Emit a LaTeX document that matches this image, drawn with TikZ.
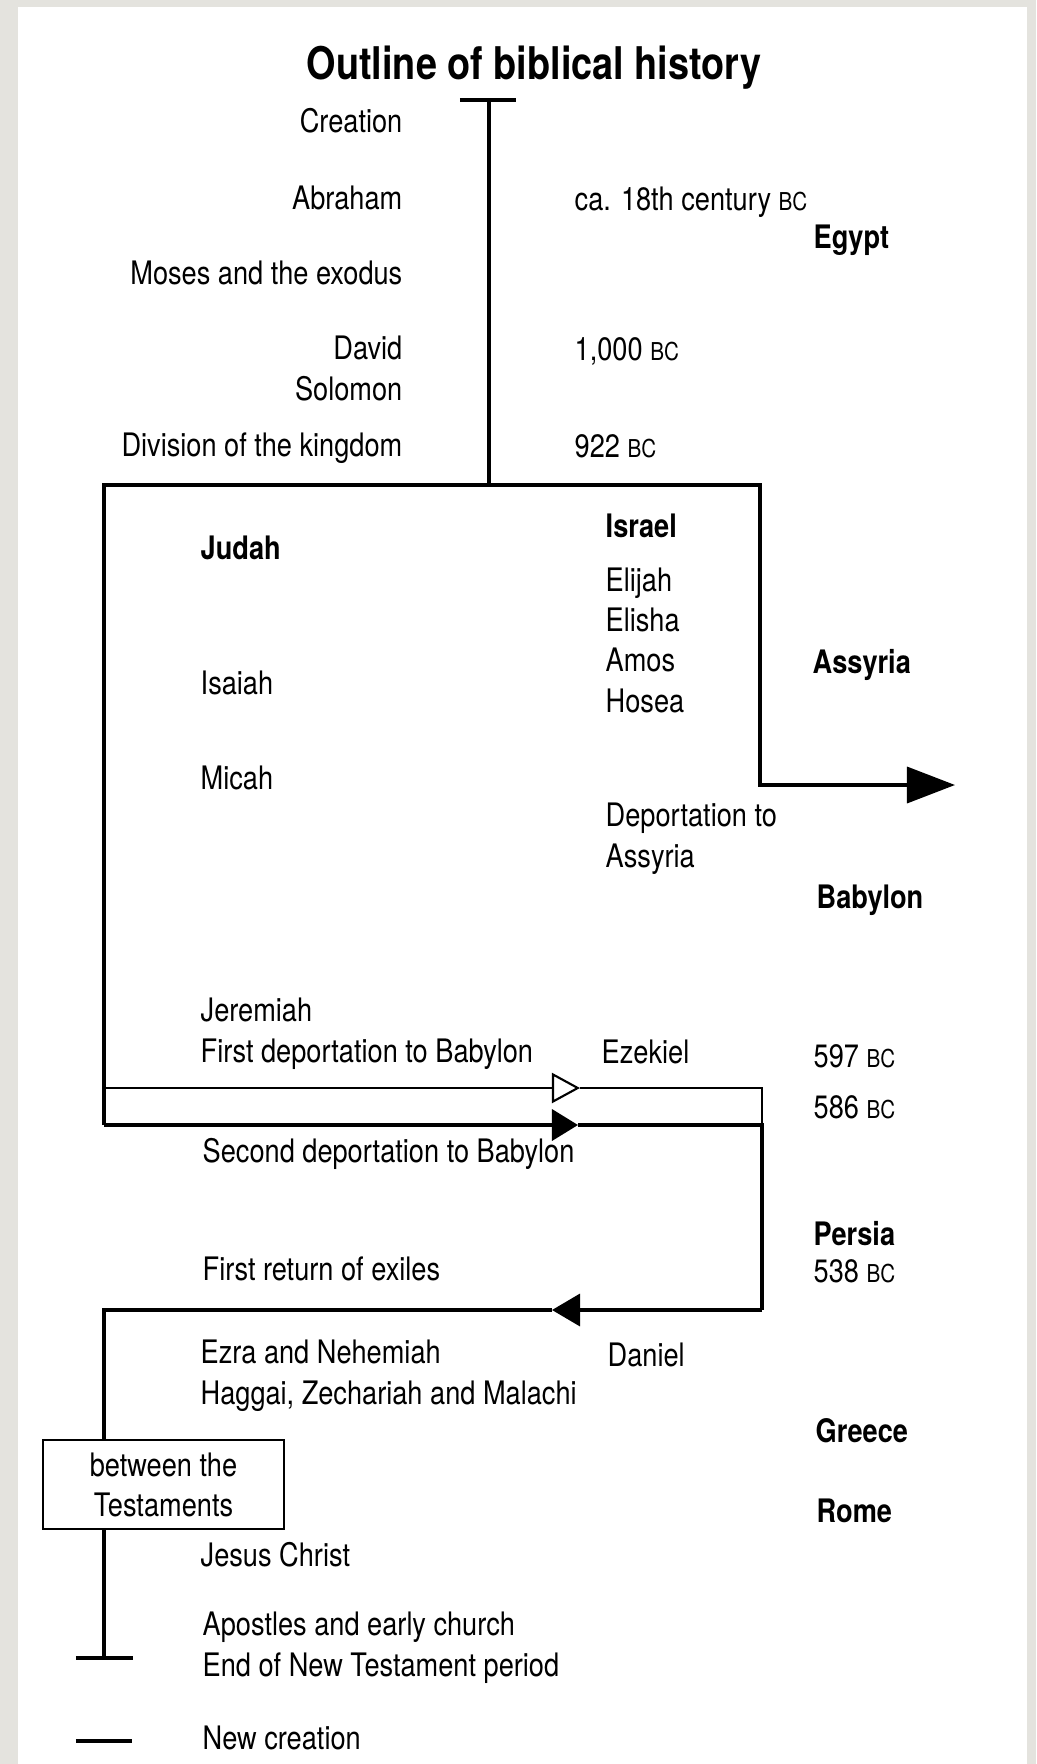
\documentclass[tikz,border=0pt]{standalone}
\usepackage{fontspec}
\setmainfont{TeX Gyre Heros}[FakeStretch=0.84]
\usetikzlibrary{arrows.meta, positioning}

\definecolor{scanpaper}{RGB}{228,227,222}
\newcommand{\yrBC}{{\fontsize{7}{8}\selectfont BC}}

\begin{document}
\begin{tikzpicture}[
    x=0.01cm, y=-0.01cm,
    % --- STYLES ---
    event/.style={
            anchor=base west,
            inner sep=0pt,
            align=left,
            font=\fontsize{9.2}{11.4}\selectfont
        },
    eventr/.style={
            event,
            anchor=base east,
            align=right
        },
    empire/.style={
            event,
            font=\fontsize{9.2}{11.4}\selectfont\bfseries
        },
    timeline/.style={
            line width=1pt,
            line join=miter
        },
    thinline/.style={
            line width=0.6pt,
            line join=miter
        },
    tick/.style={
            line width=1.4pt
        },
    period/.style={
            draw,
            line width=0.7pt,
            minimum width=2.41cm,
            minimum height=0.89cm,
            inner sep=0pt,
            align=center,
            font=\fontsize{9.2}{11.4}\selectfont
        }
    ]

    % --- PAGE ---
    \fill[scanpaper] (0,0) rectangle (1036,1764);
    \fill[white] (18,7) rectangle (1027,1764);

    \node[inner sep=0pt, anchor=base, font=\fontsize{12.8}{14}\selectfont\bfseries] (title) at (534,80) {Outline of biblical history};

    % --- TIMELINE POINTS ---
    \coordinate (top) at (489,100);
    \coordinate (split) at (489,485);
    \coordinate (boxL) at (104,485);
    \coordinate (boxR) at (760,485);
    \coordinate (bend) at (760,785);
    \coordinate (assyr) at (955,785);
    \coordinate (firstL) at (104,1088);
    \coordinate (firstA) at (580,1088);
    \coordinate (firstR) at (762,1088);
    \coordinate (secondL) at (104,1125);
    \coordinate (secondA) at (578,1125);
    \coordinate (secondR) at (762,1125);
    \coordinate (returnR) at (762,1310);
    \coordinate (returnA) at (552,1310);
    \coordinate (returnL) at (104,1310);
    \coordinate (endNT) at (104,1658);
    \coordinate (newc) at (104,1741);

    % --- BEFORE THE DIVISION ---
    % (multi-line nodes sit on the baseline of their last line)
    \node[eventr] (creation) at (403,133) {Creation};
    \node[eventr] (abraham) at (403,210) {Abraham};
    \node[eventr] (moses) at (403,285) {Moses and the exodus};
    \node[eventr] (david) at (403,400) {David\\Solomon};
    \node[eventr] (division) at (403,456) {Division of the kingdom};
    \node[event] (patriarchs) at (574,211) {ca. 18th century \yrBC};
    \node[event] (monarchy) at (574,361) {1,000 \yrBC};
    \node[event] (schism) at (574,457) {922 \yrBC};
    \node[empire] (egypt) at (813,249) {Egypt};

    % --- TWO KINGDOMS ---
    \node[empire] (israel) at (605,537) {Israel};
    \node[empire] (judah) at (200,559) {Judah};
    \node[event] (northprophets) at (605,712) {Elijah\\Elisha\\Amos\\Hosea};
    \node[empire] (assyria) at (812,673) {Assyria};
    \node[event] (isaiah) at (200,694) {Isaiah};
    \node[event] (micah) at (200,789) {Micah};
    \node[event] (deportA) at (605,867) {Deportation to\\Assyria};
    \node[empire] (babylon) at (816,908) {Babylon};
    \node[event] (jeremiah) at (200,1062) {Jeremiah\\First deportation to Babylon};
    \node[event] (ezekiel) at (601,1063) {Ezekiel};
    \node[event] (d597) at (813,1067) {597 \yrBC};
    \node[event] (d586) at (813,1118) {586 \yrBC};
    \node[event] (second) at (202,1162) {Second deportation to Babylon};

    % --- EXILE AND RETURN ---
    \node[empire] (persia) at (813,1245) {Persia};
    \node[event] (d538) at (813,1282) {538 \yrBC};
    \node[event] (returned) at (202,1280) {First return of exiles};
    \node[event] (ezra) at (200,1404) {Ezra and Nehemiah\\Haggai, Zechariah and Malachi};
    \node[event] (daniel) at (607,1366) {Daniel};
    \node[empire] (greece) at (815,1442) {Greece};
    \node[empire] (rome) at (816,1522) {Rome};
    \node[period] (between) at (163.5,1484.5) {between the\\Testaments};
    \node[event] (jesus) at (200,1566) {Jesus Christ};
    \node[event] (apostles) at (202,1676) {Apostles and early church\\End of New Testament period};
    \node[event] (newcreation) at (202,1749) {New creation};

    % --- LINES ---
    \draw[tick] ([xshift=-0.29cm]top) -- ([xshift=0.27cm]top);
    \draw[timeline] (top) -- (split);
    \draw[timeline, -{Triangle[length=0.48cm, width=0.36cm]}] (secondL) -- (boxL) -- (boxR) -- (bend) -- (assyr);

    % deportations
    \draw[thinline, -{Triangle[open, length=0.28cm, width=0.30cm]}] (firstL) -- (firstA);
    \draw[thinline] (firstA) -- (firstR) -- (secondR);
    \draw[timeline, -{Triangle[length=0.26cm, width=0.31cm]}] (secondL) -- (secondA);
    \draw[timeline] (secondA) -- (secondR) -- (returnR);

    % return
    \draw[timeline, -{Triangle[length=0.28cm, width=0.32cm]}] (returnR) -- (returnA);
    \draw[timeline] (returnA) -- (returnL) -- (returnL |- between.north);
    \draw[timeline] (returnL |- between.south) -- (endNT);
    \draw[tick] ([xshift=-0.28cm]endNT) -- ([xshift=0.29cm]endNT);
    \draw[tick] ([xshift=-0.28cm]newc) -- ([xshift=0.28cm]newc);

\end{tikzpicture}
\end{document}
